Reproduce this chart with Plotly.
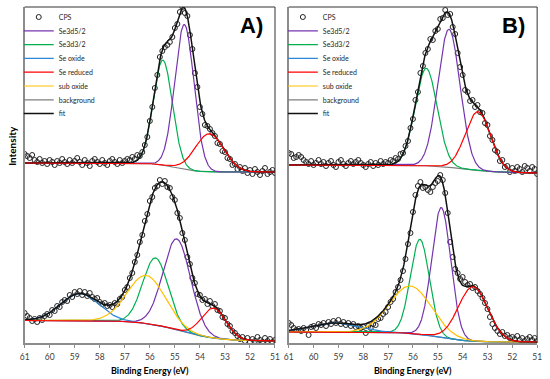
import numpy as np
import plotly.graph_objects as go

# ---------------- data ----------------
energy_ev = np.round(np.linspace(61.0, 51.0, 101), 2)          # CPS sampling grid (eV)
x_tick_values = [61, 60, 59, 58, 57, 56, 55, 54, 53, 52, 51]
x_tick_labels = ["61", "60", "59", "58", "57", "56", "55", "54", "53", "52", "51"]

# measured counts (arbitrary intensity units), 61.0 -> 51.0 eV in 0.1 eV steps
cps_A_top = [189, 187, 185, 188, 183, 181, 184, 180, 182, 179,
             183, 181, 178, 182, 180, 184, 181, 179, 183, 180,
             182, 185, 181, 178, 183, 180, 177, 182, 184, 181,
             179, 183, 180, 178, 182, 184, 181, 179, 183, 180,
             182, 184, 183, 186, 184, 188, 187, 191, 198, 206,
             222, 236, 255, 268, 286, 292, 296, 298, 301, 306,
             315, 319, 331, 336, 330, 327, 308, 294, 270, 256,
             236, 229, 218, 217, 214, 210, 207, 200, 199, 192,
             191, 185, 184, 178, 179, 174, 176, 172, 175, 170,
             173, 169, 174, 171, 168, 172, 175, 169, 171, 173,
             170]
cps_A_bottom = [30, 27, 25, 22, 24, 21, 25, 23, 27, 29,
                28, 33, 32, 37, 36, 41, 43, 42, 48, 46,
                51, 49, 52, 48, 51, 47, 50, 46, 44, 45,
                41, 39, 40, 37, 38, 36, 40, 39, 44, 46,
                53, 56, 65, 70, 81, 88, 101, 108, 122, 129,
                142, 146, 155, 157, 163, 159, 162, 156, 155, 146,
                143, 130, 125, 110, 103, 86, 79, 65, 60, 49,
                48, 43, 44, 39, 42, 37, 39, 33, 32, 26,
                25, 19, 17, 12, 10, 7, 4, 6, 2, 5,
                1, 4, 2, 6, 3, 1, 5, 2, 4, 1,
                3]
cps_B_top = [190, 189, 185, 186, 188, 186, 183, 181, 179, 182,
             178, 180, 183, 179, 181, 177, 180, 182, 178, 176,
             181, 183, 179, 177, 180, 182, 179, 181, 183, 180,
             178, 176, 179, 181, 177, 180, 178, 182, 179, 181,
             180, 183, 182, 185, 184, 189, 190, 197, 202, 215,
             224, 243, 251, 270, 277, 290, 294, 304, 303, 312,
             314, 324, 325, 333, 328, 329, 316, 309, 290, 276,
             268, 253, 251, 242, 243, 236, 238, 231, 230, 220,
             218, 207, 203, 193, 191, 182, 183, 176, 177, 171,
             175, 172, 176, 174, 171, 177, 175, 172, 176, 174,
             169]
cps_B_bottom = [20, 18, 15, 13, 14, 12, 15, 13, 8, 16,
                17, 15, 19, 18, 20, 17, 21, 19, 22, 20,
                23, 19, 21, 18, 20, 17, 19, 16, 17, 15,
                16, 10, 17, 15, 19, 18, 24, 25, 29, 31,
                36, 41, 44, 51, 56, 63, 72, 84, 99, 110,
                131, 148, 157, 161, 155, 156, 153, 151, 156, 160,
                162, 168, 163, 150, 130, 101, 86, 74, 70, 64,
                66, 61, 58, 59, 55, 56, 52, 49, 45, 40,
                34, 26, 19, 15, 12, 9, 11, 7, 8, 5,
                6, 4, 7, 3, 5, 2, 4, 6, 3, 5,
                2]

# fitted peak parameters: [centre eV, height, FWHM eV]
A_top_se3d52 = [54.62, 145, 0.90]
A_top_se3d32 = [55.48, 105, 0.90]
A_top_reduced = [53.62, 38, 1.35]
A_bot_se3d52 = [54.92, 91, 1.30]
A_bot_se3d32 = [55.77, 67, 1.20]
A_bot_oxide = [58.80, 27, 1.80]
A_bot_reduced = [53.45, 30, 1.15]
A_bot_suboxide = [56.14, 48, 1.80]
B_top_se3d52 = [54.55, 138, 1.05]
B_top_se3d32 = [55.47, 97.5, 1.05]
B_top_reduced = [53.38, 58.7, 1.20]
B_bot_se3d52 = [54.86, 130, 0.90]
B_bot_se3d32 = [55.72, 95, 0.90]
B_bot_oxide = [59.20, 9, 2.20]
B_bot_reduced = [53.58, 54.4, 1.40]
B_bot_suboxide = [56.10, 47.4, 2.00]
# step background: [level at high BE, level at low BE, step centre eV, step width eV]
A_top_bg = [180, 171, 55.0, 0.40]
A_bot_bg = [22.5, 2, 54.8, 0.75]
B_top_bg = [178, 170, 53.9, 0.70]
B_bot_bg = [11, 1, 55.0, 0.60]

# ---------------- model curves ----------------
model_ev = np.linspace(61.0, 51.0, 1001)


def gauss(e, p):
    sigma = p[2] / 2.3548
    return p[1] * np.exp(-0.5 * ((e - p[0]) / sigma) ** 2)


def step_bg(e, b):
    return b[1] + (b[0] - b[1]) / (1.0 + np.exp(-(e - b[2]) / b[3]))


spectra = [
    # panel, cps, bg, components, carries legend
    (0, cps_A_top, A_top_bg, {"Se3d5/2": A_top_se3d52, "Se3d3/2": A_top_se3d32,
                              "Se reduced": A_top_reduced}, False),
    (0, cps_A_bottom, A_bot_bg, {"Se3d5/2": A_bot_se3d52, "Se3d3/2": A_bot_se3d32,
                                 "Se oxide": A_bot_oxide, "Se reduced": A_bot_reduced,
                                 "sub oxide": A_bot_suboxide}, True),
    (1, cps_B_top, B_top_bg, {"Se3d5/2": B_top_se3d52, "Se3d3/2": B_top_se3d32,
                              "Se reduced": B_top_reduced}, False),
    (1, cps_B_bottom, B_bot_bg, {"Se3d5/2": B_bot_se3d52, "Se3d3/2": B_bot_se3d32,
                                 "Se oxide": B_bot_oxide, "Se reduced": B_bot_reduced,
                                 "sub oxide": B_bot_suboxide}, True),
]

COLORS = {"Se3d5/2": "#7534AE", "Se3d3/2": "#00B050", "Se oxide": "#2E86D4",
          "Se reduced": "#FF0000", "sub oxide": "#FFC000", "background": "#7F7F7F",
          "fit": "#111111"}
LEGEND_ORDER = ["CPS", "Se3d5/2", "Se3d3/2", "Se oxide", "Se reduced", "sub oxide",
                "background", "fit"]
DRAW_ORDER = ["background", "Se3d3/2", "Se3d5/2", "Se oxide", "sub oxide", "fit",
              "Se reduced"]


def legend_id(panel, name):
    n = panel * 8 + LEGEND_ORDER.index(name) + 1
    return "legend" if n == 1 else f"legend{n}"


fig = go.Figure()
for panel in (0, 1):
    xa, ya = ("x", "y") if panel == 0 else ("x2", "y2")
    specs = [s for s in spectra if s[0] == panel]
    for _, cps, bg, comps, leg in specs:
        fig.add_trace(go.Scatter(
            x=energy_ev, y=cps, mode="markers", name="CPS", xaxis=xa, yaxis=ya,
            marker=dict(symbol="circle-open", size=5, color="#222222",
                        line=dict(width=1, color="#222222")),
            showlegend=leg, legend=legend_id(panel, "CPS")))
    for name in DRAW_ORDER:
        for _, cps, bg, comps, leg in specs:
            base = step_bg(model_ev, bg)
            if name == "background":
                yv = base
            elif name == "fit":
                yv = base + sum(gauss(model_ev, p) for p in comps.values())
            elif name in comps:
                yv = base + gauss(model_ev, comps[name])
            else:
                continue
            width = 1.5 if name == "fit" else 1.2
            fig.add_trace(go.Scatter(
                x=model_ev, y=yv, mode="lines", name=name, xaxis=xa, yaxis=ya,
                line=dict(color=COLORS[name], width=width),
                showlegend=leg, legend=legend_id(panel, name)))

W, H = 550, 379
AX = "#8C8C8C"
common_x = dict(range=[61, 51], tickmode="array", tickvals=x_tick_values,
                ticktext=x_tick_labels, ticks="outside", ticklen=3, tickwidth=1,
                tickcolor=AX, showline=True, linecolor=AX, linewidth=1.5,
                showgrid=False, zeroline=False, ticklabelstandoff=2,
                tickfont=dict(family="Lato", size=8.5, color="#404040"))
common_y = dict(domain=[1 - 343 / H, 1 - 7 / H], range=[0, 336], showticklabels=False,
                ticks="", showline=True, linecolor=AX, linewidth=1.5,
                showgrid=False, zeroline=False)

layout = dict(
    width=W, height=H, margin=dict(l=0, r=0, t=0, b=0),
    paper_bgcolor="white", plot_bgcolor="white", showlegend=True,
    xaxis=dict(domain=[20 / W, 275 / W], anchor="y", **common_x),
    yaxis=dict(anchor="x", **common_y),
    xaxis2=dict(domain=[289 / W, 542 / W], anchor="y2", **common_x),
    yaxis2=dict(anchor="x2", **common_y),
)

legend_x_px = [14, 283]
for panel in (0, 1):
    for k, name in enumerate(LEGEND_ORDER):
        yc = 17 + 13.8 * k
        layout[legend_id(panel, name)] = dict(
            x=legend_x_px[panel] / W, y=1 - (yc - 14.5) / H, xanchor="left", yanchor="top",
            bgcolor="rgba(0,0,0,0)", borderwidth=0, itemwidth=30, tracegroupgap=0,
            font=dict(family="Lato", size=7, color="#262626"))

fig.update_layout(**layout)

# thin frame on top / right of each plot area
for xr, yr in (("x domain", "y domain"), ("x2 domain", "y2 domain")):
    fig.add_shape(type="line", xref=xr, yref=yr, x0=0, x1=1, y0=1, y1=1,
                  line=dict(color="#333333", width=1))
    fig.add_shape(type="line", xref=xr, yref=yr, x0=1, x1=1, y0=0, y1=1,
                  line=dict(color="#333333", width=1))

fig.add_annotation(text="A)", x=251 / W, y=1 - 25 / H, xref="paper", yref="paper",
                   showarrow=False, xanchor="center", yanchor="middle",
                   font=dict(family="Liberation Sans", size=22, color="black", weight="bold"))
fig.add_annotation(text="B)", x=517.5 / W, y=1 - 25 / H, xref="paper", yref="paper",
                   showarrow=False, xanchor="center", yanchor="middle",
                   font=dict(family="Liberation Sans", size=22, color="black", weight="bold"))
fig.add_annotation(text="Intensity", x=7 / W, y=1 - 146 / H, xref="paper", yref="paper",
                   showarrow=False, textangle=-90, xanchor="center", yanchor="middle",
                   font=dict(family="Lato", size=10, color="black", weight="bold"))
for xc in (147.5, 415.5):
    fig.add_annotation(text="Binding Energy (eV)", x=xc / W, y=1 - 370 / H,
                       xref="paper", yref="paper", showarrow=False,
                       xanchor="center", yanchor="middle",
                       font=dict(family="Lato", size=9, color="black", weight="bold"))

fig.write_html("out.html", config={"displayModeBar": False},
               post_script="document.body.style.margin='0px';")
